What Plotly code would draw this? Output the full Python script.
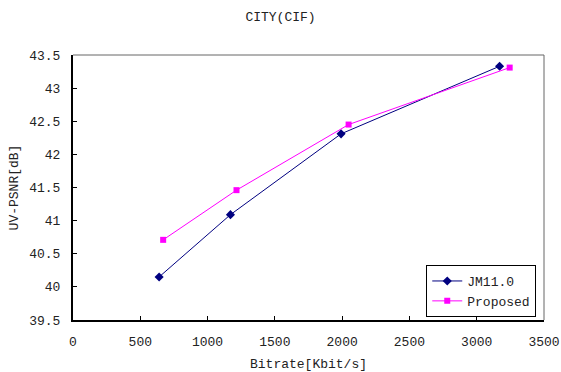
import plotly.graph_objects as go

jm_x = [640, 1170, 1992, 3170]
jm_y = [40.15, 41.09, 42.31, 43.33]
pr_x = [670, 1215, 2048, 3245]
pr_y = [40.71, 41.46, 42.45, 43.31]

FONT = "Liberation Mono"
TXT = "#222222"

fig = go.Figure()
fig.add_trace(go.Scatter(x=jm_x, y=jm_y, name="JM11.0", mode="lines+markers",
                         line=dict(color="#000080", width=1),
                         marker=dict(symbol="diamond", size=7, color="#000080")))
fig.add_trace(go.Scatter(x=pr_x, y=pr_y, name="Proposed", mode="lines+markers",
                         line=dict(color="#FF00FF", width=1),
                         marker=dict(symbol="square", size=6, color="#FF00FF")))

fig.update_layout(
    width=561, height=372,
    margin=dict(l=73, r=17, t=55, b=52),
    paper_bgcolor="white", plot_bgcolor="white",
    font=dict(family=FONT, size=13, color=TXT),
    title=dict(text="CITY(CIF)", x=0.5, xanchor="center", y=0.955, yanchor="middle",
               font=dict(family=FONT, size=13, color=TXT)),
    showlegend=True,
    legend=dict(x=0.75, y=0.2075, xanchor="left", yanchor="top",
                bordercolor="black", borderwidth=1, bgcolor="white",
                font=dict(family=FONT, size=13, color=TXT),
                tracegroupgap=0, itemwidth=30),
)
fig.update_xaxes(range=[0, 3500], dtick=500, tick0=0, showgrid=False, zeroline=False,
                 showline=True, linecolor="black", linewidth=2, automargin=False,
                 ticks="inside", ticklen=4, tickcolor="black", ticklabelstandoff=8,
                 ticklabeloverflow="allow",
                 title=dict(text="Bitrate[Kbit/s]", standoff=10, font=dict(size=13)))
fig.update_yaxes(range=[39.5, 43.5], dtick=0.5, tick0=39.5, showgrid=False, zeroline=False,
                 showline=True, linecolor="black", linewidth=2, automargin=False,
                 ticks="inside", ticklen=4, tickcolor="black", ticklabelstandoff=8,
                 ticklabeloverflow="allow",
                 title=dict(text="UV-PSNR[dB]", standoff=8, font=dict(size=13)))
fig.add_shape(type="line", xref="paper", yref="paper", x0=0, x1=1, y0=1, y1=1,
              line=dict(color="#666666", width=1))
fig.add_shape(type="line", xref="paper", yref="paper", x0=1, x1=1, y0=0, y1=1,
              line=dict(color="#666666", width=1))

fig.write_html("out.html")
